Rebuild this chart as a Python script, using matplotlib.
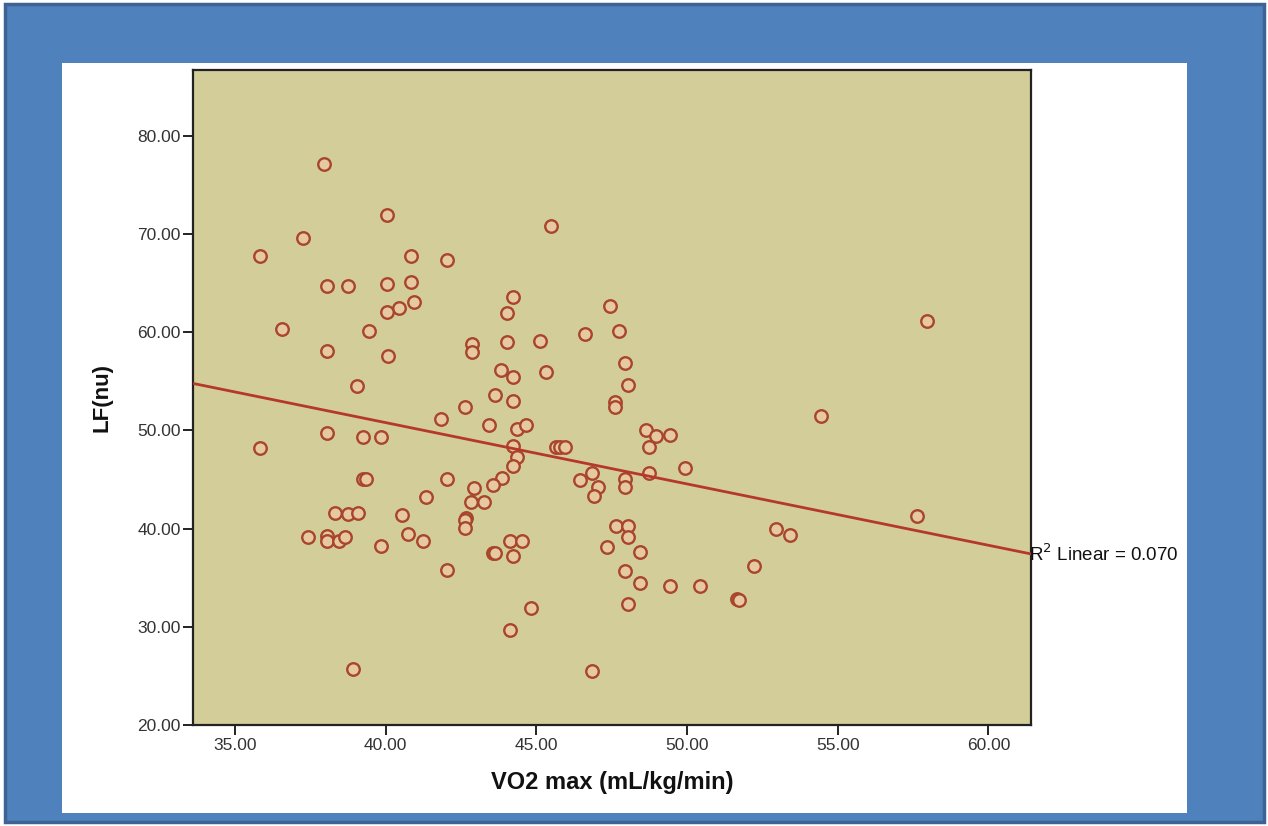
import numpy as np
import matplotlib
matplotlib.use("Agg")
import matplotlib.pyplot as plt
from matplotlib.patches import Rectangle

vo2 = [37.96, 40.04, 37.26, 35.84, 40.84, 42.03, 38.04, 38.74, 40.04, 40.84,
       40.95, 40.45, 40.04, 36.55, 39.46, 38.04, 40.07, 42.85, 42.85, 39.05,
       42.63, 41.83, 43.44, 43.63, 38.04, 44.24, 44.04, 47.44, 44.04, 45.12,
       46.62, 47.75, 47.94, 48.05, 43.83, 44.24, 45.33, 44.24, 47.61, 47.61,
       44.36, 44.65, 44.24, 44.36, 44.24, 45.65, 45.79, 45.95, 48.64, 48.97,
       49.44, 48.74, 49.93, 48.74, 42.05, 46.84, 46.45, 47.03, 46.92, 47.94,
       47.94, 43.86, 43.55, 42.94, 42.83, 43.25, 42.66, 35.84, 39.24, 39.84,
       39.24, 39.35, 41.34, 38.33, 38.74, 39.07, 40.53, 42.63, 42.63, 37.43,
       38.04, 38.04, 38.46, 38.65, 39.84, 40.75, 41.25, 42.03, 43.55, 43.63,
       38.93, 44.13, 44.54, 44.24, 44.82, 44.13, 47.64, 48.05, 48.05, 47.34,
       48.44, 47.94, 48.44, 49.44, 50.43, 48.05, 46.83, 51.67, 51.73, 54.44,
       57.63, 52.95, 53.43, 52.23, 57.95, 45.50]
lf = [77.1, 71.9, 69.6, 67.8, 67.8, 67.4, 64.7, 64.7, 64.9, 65.1,
      63.1, 62.5, 62.1, 60.3, 60.1, 58.1, 57.6, 58.8, 58.0, 54.5,
      52.4, 51.2, 50.6, 53.6, 49.7, 63.6, 62.0, 62.7, 59.0, 59.1,
      59.8, 60.1, 56.9, 54.6, 56.1, 55.4, 55.9, 53.0, 52.9, 52.4,
      50.1, 50.6, 48.4, 47.3, 46.4, 48.3, 48.3, 48.3, 50.0, 49.4,
      49.5, 48.3, 46.2, 45.7, 45.1, 45.7, 44.9, 44.2, 43.3, 45.1,
      44.2, 45.2, 44.4, 44.1, 42.7, 42.7, 41.1, 48.2, 49.3, 49.3,
      45.1, 45.1, 43.2, 41.6, 41.5, 41.6, 41.4, 40.9, 40.1, 39.1,
      39.2, 38.7, 38.7, 39.1, 38.2, 39.5, 38.7, 35.8, 37.5, 37.5,
      25.7, 38.7, 38.7, 37.2, 31.9, 29.7, 40.3, 40.3, 39.1, 38.1,
      37.6, 35.7, 34.5, 34.2, 34.2, 32.3, 25.5, 32.8, 32.7, 51.5,
      41.3, 40.0, 39.3, 36.2, 61.1, 70.8]

x_ticks = [35, 40, 45, 50, 55, 60]
y_ticks = [20, 30, 40, 50, 60, 70, 80]
r2_label = "R$^2$ Linear = 0.070"
xlabel = "VO2 max (mL/kg/min)"
ylabel = "LF(nu)"

W, H = 1268, 826
fig = plt.figure(figsize=(W / 100, H / 100), dpi=100, facecolor="white")

# blue frame and white panel
fig.patches.append(Rectangle((5 / W, 4 / H), (W - 9) / W, (H - 8) / H,
                             transform=fig.transFigure, facecolor="#4F81BD",
                             edgecolor="#3D6395", linewidth=2.5, zorder=0))
fig.patches.append(Rectangle((62 / W, (H - 813) / H), (1187 - 62) / W, (813 - 63) / H,
                             transform=fig.transFigure, facecolor="white",
                             edgecolor="none", zorder=1))

ax = fig.add_axes([193 / W, (H - 725) / H, (1031 - 193) / W, (725 - 70) / H])
ax.set_facecolor("#D3CE99")
ax.set_zorder(2)

ax.plot(vo2, lf, linestyle="none", marker="o", markersize=9,
        markerfacecolor="#E6C9A0", markeredgecolor="#A8452C",
        markeredgewidth=1.7, zorder=3)

xlim = (33.61, 61.41)
ax.set_xlim(*xlim)
ax.set_ylim(20, 86.7)

slope, intercept = np.polyfit(vo2, lf, 1)
xs = np.array(xlim)
ax.plot(xs, slope * xs + intercept, color="#B5382A", linewidth=2, zorder=4,
        solid_capstyle="butt")
ax.text(xlim[1] - 0.08, slope * xlim[1] + intercept, r2_label, fontsize=13.5,
        family="Liberation Sans", color="#111111", ha="left", va="center",
        clip_on=False, zorder=5)

ax.set_xticks(x_ticks)
ax.set_yticks(y_ticks)
ax.set_xticklabels([f"{v:.2f}" for v in x_ticks], family="Liberation Sans",
                   fontsize=12.5, color="#333333")
ax.set_yticklabels([f"{v:.2f}" for v in y_ticks], family="Liberation Sans",
                   fontsize=12.5, color="#333333")
ax.tick_params(direction="out", length=7.5, width=1.4, color="#222222", pad=1.5)
for sp in ax.spines.values():
    sp.set_color("#222222")
    sp.set_linewidth(1.6)

ax.set_xlabel(xlabel, family="Liberation Sans", fontsize=17, fontweight="bold",
              color="#111111", va="center")
ax.set_ylabel(ylabel, family="Liberation Sans", fontsize=16, fontweight="bold",
              color="#111111", va="center")
ax.xaxis.set_label_coords(0.5, (725 - 782) / 655)
ax.yaxis.set_label_coords((102 - 193) / 838, 0.5)

fig.savefig("out.png", dpi=100, facecolor=fig.get_facecolor())
